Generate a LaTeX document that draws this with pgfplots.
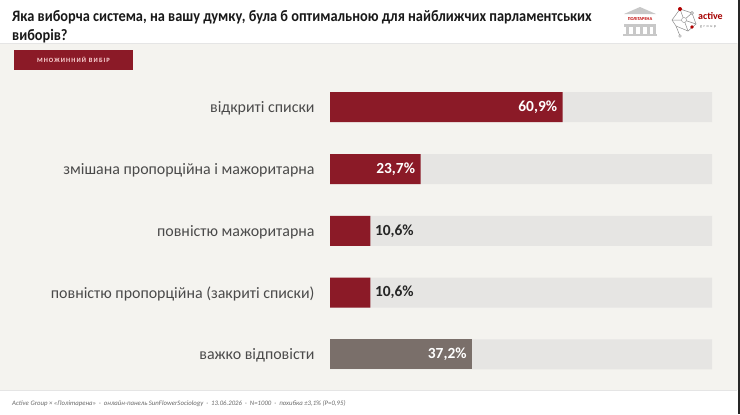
\documentclass[border=0pt]{standalone}
\usepackage{pgfplots}
\pgfplotsset{compat=1.18}
\usepackage{fontspec}
\setmainfont{Carlito}
\newfontfamily\titlefont[FakeStretch=0.9]{Carlito}
\definecolor{barred}{HTML}{8B1A27}
\definecolor{bargray}{HTML}{7A6F6A}
\definecolor{barbg}{HTML}{E6E5E3}
\definecolor{pagebg}{HTML}{F4F3EF}
\definecolor{labtxt}{HTML}{4A4A4A}
\definecolor{foottxt}{HTML}{6A6A6A}
\definecolor{logogray}{HTML}{C8C8C8}
\begin{document}
\begin{tikzpicture}
\begin{scope}[x=1bp,y=-1bp]
\useasboundingbox (0,0) rectangle (740,414);
\fill[white] (0,0) rectangle (740,414);
\fill[pagebg] (0,43) rectangle (740,390);
\draw[line width=1.2bp, black!10] (0,43.5) -- (737,43.5);
\draw[line width=1bp, black!10] (0,390) -- (737,390);
\fill[black!85] (737.5,0) rectangle (740,414);
% title
\node[anchor=base west, inner sep=0pt, font=\titlefont\bfseries\fontsize{16}{19}\selectfont, text=black!90] at (12,21) {Яка виборча система, на вашу думку, була б оптимальною для найближчих парламентських};
\node[anchor=base west, inner sep=0pt, font=\titlefont\bfseries\fontsize{16}{19}\selectfont, text=black!90] at (12,40) {виборів?};
% badge
\fill[barred] (14,49.5) rectangle (133,70);
\node[text=white!85!red, font=\bfseries\fontsize{6.5}{7}\selectfont, inner sep=0pt] at (73.5,60) {М\,Н\,О\,Ж\,И\,Н\,Н\,И\,Й\ \ В\,И\,Б\,І\,Р};
% logo Політарена
\fill[logogray] (624,14) -- (640,7) -- (656,14) -- cycle;
\fill[logogray] (624,24) rectangle (656,27);
\foreach \cx in {626,633,640,647,653}{\fill[logogray] (\cx,27) rectangle (\cx+3,34);}
\fill[logogray] (623,34) rectangle (657,36);
\node[text=red!75!black, font=\bfseries\fontsize{4.5}{5}\selectfont, inner sep=0pt] at (640,19.5) {ПОЛІТАРЕНА};
% logo active group
\draw[black!45, line width=0.5bp] (680,9) -- (692,13) -- (696,24) -- (688,31) -- (676,26) -- (672,20) -- cycle;
\draw[black!45, line width=0.5bp] (680,9) -- (684,20) -- (692,13) (684,20) -- (688,31) (684,20) -- (672,20) (696,24) -- (684,20) (676,26) -- (680,36);
\fill[red!70!black] (680,9) circle (2);
\fill[red!70!black] (692,27) circle (1.8);
\draw[black!45, fill=white] (684,20) circle (2.5);
\draw[black!45, fill=white] (692,13) circle (1.5);
\draw[black!45, fill=white] (680,36) circle (1.3);
\node[anchor=base west, text=red!65!black, font=\bfseries\fontsize{10}{11}\selectfont, inner sep=0pt] at (698,19) {active};
\node[anchor=base west, text=black!55, font=\fontsize{4}{5}\selectfont, inner sep=0pt] at (700,27) {g\ \,r\ \,o\ \,u\ \,p};
% footer
\node[anchor=base west, inner sep=0pt, text=foottxt, font=\itshape\fontsize{6.8}{7.5}\selectfont] at (12,405) {Active Group × «Політарена» \ · \ онлайн-панель SunFlowerSociology \ · \ 13.06.2026 \ · \ N=1000 \ · \ похибка ±3,1\% (P=0,95)};
\end{scope}
\begin{axis}[
  at={(330bp,-385.3bp)}, anchor=south west,
  scale only axis, width=382bp, height=309bp,
  xbar, bar width=30bp, bar shift=0pt,
  xmin=0, xmax=100, ymin=-0.5, ymax=4.5, y dir=reverse,
  axis line style={draw=none}, tick style={draw=none},
  xtick=\empty, ytick={0,1,2,3,4},
  yticklabels={відкриті списки, змішана пропорційна і мажоритарна, повністю мажоритарна, повністю пропорційна (закриті списки), важко відповісти},
  yticklabel style={inner sep=0pt, xshift=-11bp, yshift=-1bp, text=labtxt, font=\fontsize{16}{18}\selectfont},
  /pgf/number format/assume math mode=true,
  nodes near coords={\pgfmathprintnumber[fixed,fixed zerofill,precision=1,use comma]{\pgfplotspointmeta}\%},
  nodes near coords style={font=\bfseries\fontsize{15.5}{17}\selectfont},
  clip=false,
]
\addplot[draw=none, fill=barbg, nodes near coords={}] coordinates {(100,0) (100,1) (100,2) (100,3) (100,4)};
\addplot[draw=none, fill=barred, nodes near coords style={anchor=east, text=white, xshift=-2bp}] coordinates {(60.9,0) (23.7,1)};
\addplot[draw=none, fill=barred, nodes near coords style={anchor=west, text=black!85, xshift=1bp}] coordinates {(10.6,2) (10.6,3)};
\addplot[draw=none, fill=bargray, nodes near coords style={anchor=east, text=white, xshift=-2bp}] coordinates {(37.2,4)};
\end{axis}
\end{tikzpicture}
\end{document}
